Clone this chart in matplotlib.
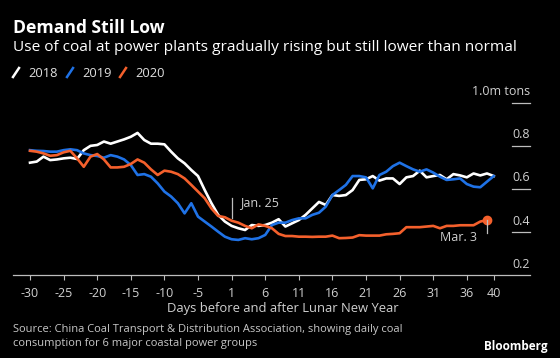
import numpy as np
import matplotlib.pyplot as plt
from matplotlib.lines import Line2D

plt.rcParams["font.family"] = ["Open Sans", "DejaVu Sans"]

# days before / after Lunar New Year (no day 0)
days = list(range(-30, 0)) + list(range(1, 41))
tick_days = [-30, -25, -20, -15, -10, -5, 1, 6, 11, 16, 21, 26, 31, 36, 40]
y_ticks = [0.2, 0.4, 0.6, 0.8, 1.0]
y_labels = ["0.2", "0.4", "0.6", "0.8", "1.0m tons"]

coal_2018 = [0.722, 0.727, 0.75, 0.734, 0.737, 0.742, 0.745, 0.739, 0.78, 0.80,
             0.804, 0.82, 0.81, 0.82, 0.83, 0.842, 0.86, 0.827, 0.81, 0.81,
             0.807, 0.773, 0.742, 0.719, 0.688, 0.66, 0.595, 0.534, 0.48, 0.449,
             0.429, 0.418, 0.41, 0.433, 0.429, 0.433, 0.444, 0.46, 0.426, 0.441,
             0.456, 0.48, 0.51, 0.54, 0.526, 0.572, 0.568, 0.572, 0.595, 0.642,
             0.645, 0.66, 0.639, 0.649, 0.649, 0.623, 0.654, 0.66, 0.685, 0.654,
             0.66, 0.665, 0.645, 0.669, 0.663, 0.654, 0.672, 0.663, 0.672, 0.66]
coal_2019 = [0.78, 0.777, 0.776, 0.773, 0.773, 0.78, 0.784, 0.78, 0.765, 0.757,
             0.753, 0.745, 0.757, 0.75, 0.737, 0.711, 0.665, 0.669, 0.657, 0.626,
             0.588, 0.565, 0.534, 0.487, 0.534, 0.472, 0.449, 0.426, 0.402, 0.379,
             0.367, 0.364, 0.372, 0.367, 0.372, 0.387, 0.433, 0.444, 0.444, 0.456,
             0.464, 0.464, 0.48, 0.49, 0.518, 0.572, 0.595, 0.619, 0.66, 0.66,
             0.654, 0.603, 0.665, 0.68, 0.706, 0.722, 0.706, 0.691, 0.68, 0.691,
             0.676, 0.657, 0.642, 0.645, 0.649, 0.623, 0.611, 0.608, 0.634, 0.66]
coal_2020 = [0.777, 0.773, 0.765, 0.754, 0.757, 0.77, 0.777, 0.742, 0.703, 0.75,
             0.762, 0.737, 0.7, 0.7, 0.703, 0.716, 0.737, 0.722, 0.691, 0.665,
             0.685, 0.68, 0.669, 0.649, 0.619, 0.588, 0.557, 0.51, 0.475, 0.469,
             0.453, 0.444, 0.429, 0.418, 0.436, 0.429, 0.418, 0.392, 0.382, 0.382,
             0.379, 0.379, 0.378, 0.379, 0.379, 0.384, 0.372, 0.373, 0.375, 0.386,
             0.384, 0.384, 0.384, 0.39, 0.392, 0.395, 0.423, 0.423, 0.423, 0.426,
             0.429, 0.418, 0.429, 0.429, 0.432, 0.432, 0.432, 0.449, 0.456]

WHITE = "#ffffff"
BLUE = "#1f72e6"
ORANGE = "#f4602c"
GREY = "#bdbdbd"
TXT = "#d0d0d0"

W, H = 560, 358
fig = plt.figure(figsize=(W / 100, H / 100), dpi=100, facecolor="black")
ax = fig.add_axes([12.6 / W, 1 - 275.3 / H, (530 - 12.6) / W, (275.3 - 102.7) / H])
ax.set_facecolor("black")

pos = {d: i for i, d in enumerate(days)}
x = np.arange(len(days))
ax.plot(x, coal_2018, color=WHITE, lw=1.9)
ax.plot(x, coal_2019, color=BLUE, lw=1.9)
ax.plot(x[:len(coal_2020)], coal_2020, color=ORANGE, lw=1.9)
ax.plot(x[len(coal_2020) - 1], coal_2020[-1], "o", color=ORANGE, ms=6)

ax.set_xlim(-2.59, 74.4)
ax.set_ylim(0.2, 1.0)

# x axis
ax.set_xticks([pos[d] for d in tick_days])
ax.set_xticklabels([str(d) for d in tick_days])
ax.tick_params(axis="x", colors=GREY, length=3.5, width=0.8, pad=5,
               labelsize=9, labelcolor=TXT)
ax.set_yticks([])
for s in ["top", "left", "right"]:
    ax.spines[s].set_visible(False)
ax.spines["bottom"].set_color(GREY)
ax.spines["bottom"].set_linewidth(0.9)

# y ticks drawn on the right, label sitting above each short line
for v, lab in zip(y_ticks, y_labels):
    if v > 0.2:
        ax.plot([71.7, 74.4], [v, v], color=GREY, lw=0.9, clip_on=False)
    ax.annotate(lab, xy=(74.4, v), xytext=(0, 5.5), textcoords="offset points",
                ha="right", va="baseline", color=TXT, fontsize=9,
                annotation_clip=False)

# annotations
ax.plot([pos[1], pos[1]], [0.466, 0.558], color=GREY, lw=0.9)
ax.annotate("Jan. 25", xy=(pos[1], 0.537), xytext=(6, 0), textcoords="offset points",
            ha="left", va="center", color=TXT, fontsize=9)
ax.plot([pos[39], pos[39]], [coal_2020[-1], 0.398], color=GREY, lw=0.9)
ax.annotate("Mar. 3", xy=(pos[39], 0.375), xytext=(-7, 0), textcoords="offset points",
            ha="right", va="center", color=TXT, fontsize=9)

# header
fig.text(12.6 / W, 1 - 32.7 / H, "Demand Still Low", color="white",
         fontsize=12.6, fontweight="bold", va="baseline")
fig.text(12.6 / W, 1 - 50.7 / H,
         "Use of coal at power plants gradually rising but still lower than normal",
         color="white", fontsize=11.1, va="baseline")

# legend
for x0, col, lab in [(13, WHITE, "2018"), (67, BLUE, "2019"), (120, ORANGE, "2020")]:
    fig.add_artist(Line2D([x0 / W, (x0 + 6) / W], [1 - 77 / H, 1 - 68 / H],
                          color=col, lw=1.8, transform=fig.transFigure))
    fig.text((x0 + 15) / W, 1 - 77.3 / H, lab, color="#e0e0e0", fontsize=9.3,
             va="baseline")

fig.text(283 / W, 1 - 312 / H, "Days before and after Lunar New Year",
         color=TXT, fontsize=9.4, ha="center", va="baseline")
fig.text(12.6 / W, 1 - 332 / H,
         "Source: China Coal Transport & Distribution Association, showing daily coal",
         color="#c8c8c8", fontsize=8, va="baseline")
fig.text(12.6 / W, 1 - 346 / H, "consumption for 6 major coastal power groups",
         color="#c8c8c8", fontsize=8, va="baseline")
fig.text(548 / W, 1 - 350 / H, "Bloomberg", color="white", fontsize=8.5,
         fontweight="bold", ha="right", va="baseline")

fig.savefig("out.png", dpi=100, facecolor="black")
